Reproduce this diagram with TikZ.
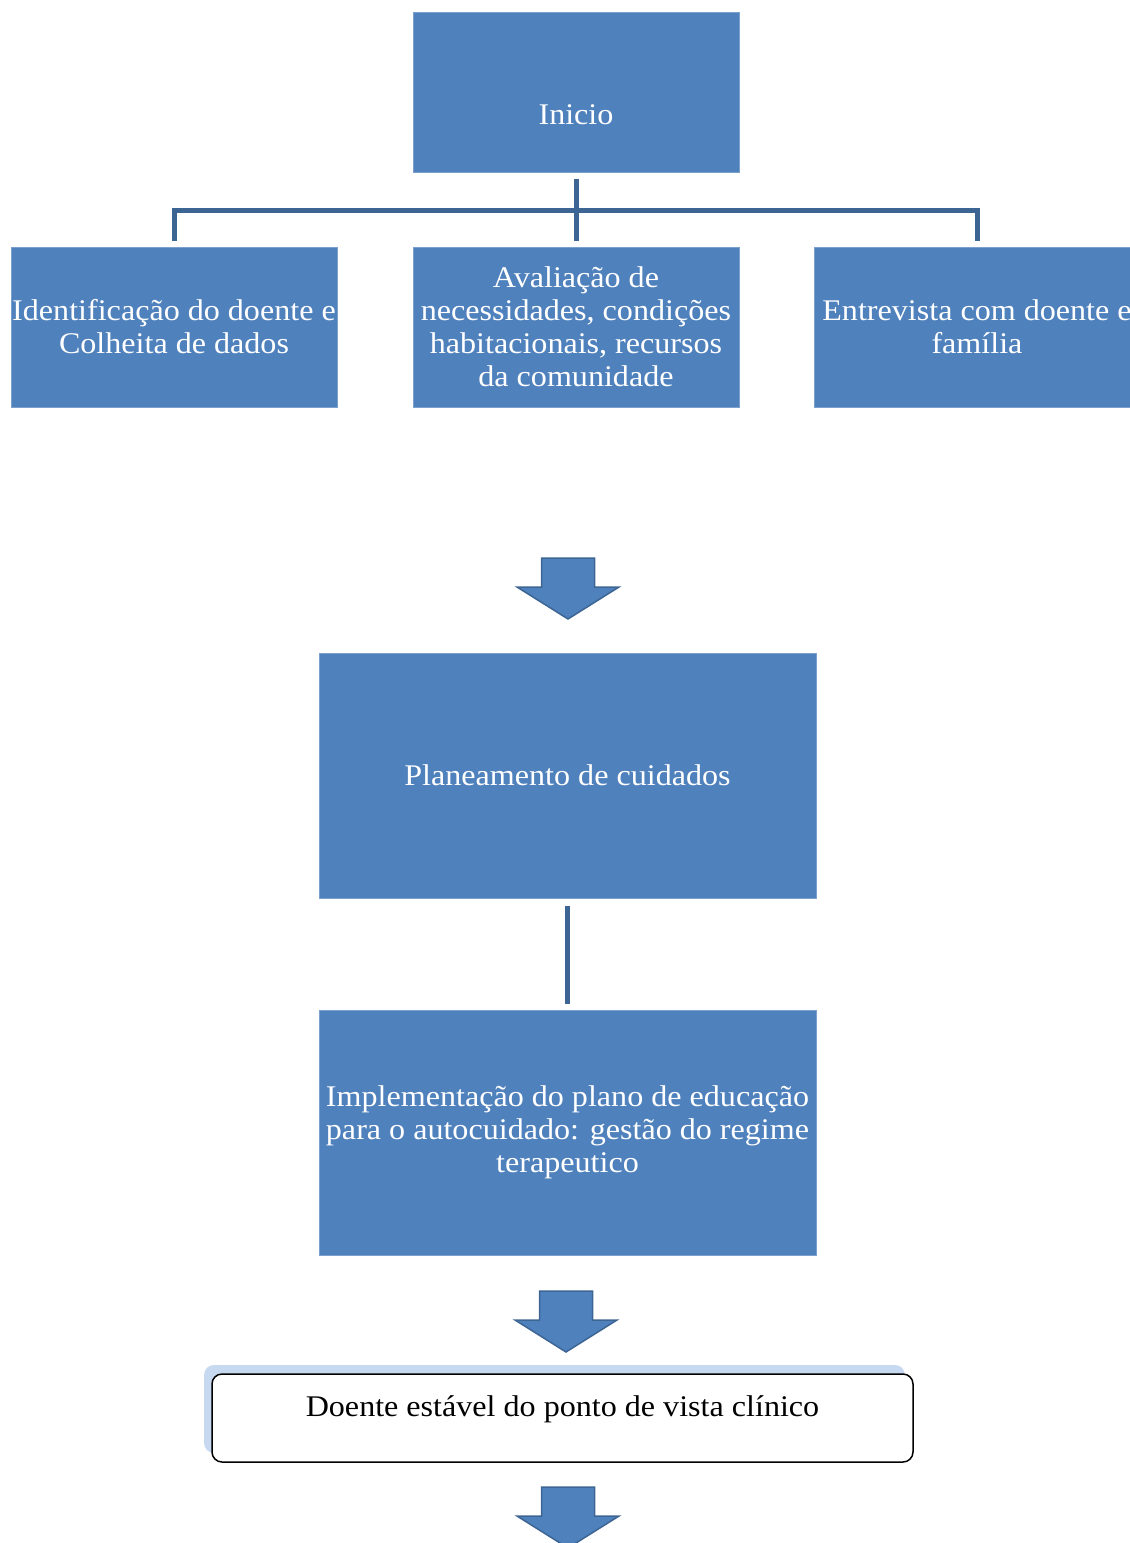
\documentclass[tikz,border=0pt]{standalone}
\usepackage{fontspec}
\setmainfont{Liberation Serif}
\newfontfamily\boxfont{Liberation Serif}[FakeStretch=1.07]
\usetikzlibrary{shadows}
\definecolor{boxblue}{HTML}{4F81BD}
\definecolor{lineblue}{HTML}{3D6594}
\definecolor{shadowblue}{HTML}{C6D9F0}
\begin{document}
\begin{tikzpicture}[x=1pt,y=-1pt,
  boxtext/.style={font=\boxfont\fontsize{30}{33}\selectfont},
  bluebox/.style={fill=boxblue, draw=boxblue!75!white, line width=1pt, inner sep=0pt,
    text=white, boxtext, align=center,
    minimum width=326pt, minimum height=160pt},
  bigbox/.style={bluebox, minimum width=497pt, minimum height=245pt},
  conn/.style={draw=lineblue, line width=5pt, line join=miter},
  blockarrow/.style={fill=boxblue, draw=lineblue, line width=1.5pt, line join=miter},
  downarrow/.pic={\filldraw[blockarrow] (-26.5,0) -- (26.5,0) -- (26.5,29) -- (51,29) -- (0,61) -- (-51,29) -- (-26.5,29) -- cycle;},
  roundbox/.style={draw=black, line width=1.5pt, fill=white, rounded corners=10pt,
    minimum width=701pt, minimum height=88pt, inner sep=0pt,
    drop shadow={shadow xshift=-8pt, shadow yshift=9pt, fill=shadowblue, opacity=1}}
]
\useasboundingbox (0,0) rectangle (1130,1543);

\node[bluebox, label={[text=white, boxtext, yshift=-23pt]center:Inicio}] (inicio) at (576,92) {};
\node[bluebox] (ident) at (174,327) {Identificação do doente e\\Colheita de dados};
\node[bluebox] (aval) at (576,327) {Avaliação de\\necessidades, condições\\habitacionais, recursos\\da comunidade};
\node[bluebox] (entr) at (977,327) {Entrevista com doente e\\família};

\coordinate (bus) at (576,210);
\draw[conn] ([yshift=-6pt]inicio.south) -- ([yshift=6pt]aval.north);
\draw[conn] ([yshift=6pt]ident.north) |- (bus) -| ([yshift=6pt]entr.north);

\pic at (568,558) {downarrow};

\node[bigbox] (plan) at (567.5,775.5) {Planeamento de cuidados};
\node[bigbox] (impl) at (567.5,1132.5) {Implementação do plano de educação\\para o autocuidado: gestão do regime\\terapeutico};
\draw[conn] ([yshift=-7pt]plan.south) -- ([yshift=6pt]impl.north);

\pic at (566,1291) {downarrow};

\node[roundbox, label={[text=black, boxtext, yshift=9pt]center:Doente estável do ponto de vista clínico}] (estavel) at (562.5,1418) {};

\pic at (568,1487) {downarrow};
\end{tikzpicture}
\end{document}
